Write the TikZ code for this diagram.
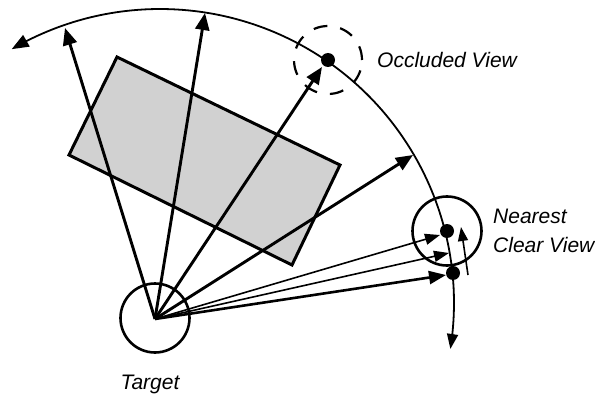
\documentclass[tikz,border=0pt]{standalone}
\usepackage{fontspec}
\setmainfont{Liberation Sans}
\usetikzlibrary{arrows.meta}
\begin{document}
\begin{tikzpicture}[x=1pt,y=-1pt,
  bigarrow/.style={line width=2.9pt,-{Triangle[length=17pt,width=14pt]}},
  thinarrow/.style={line width=1.6pt,-{Triangle[length=15pt,width=11pt]}},
  dot/.style={circle,fill=black,inner sep=0pt,minimum size=14pt},
  ring/.style={circle,draw,line width=2.6pt,inner sep=0pt,minimum size=69pt},
  lbl/.style={font=\fontsize{21}{29}\selectfont\itshape,inner sep=0pt}]
\useasboundingbox (0,0) rectangle (595,396);
\fill[white] (0,0) rectangle (595,396);
% obstacle
\draw[line width=3pt,fill=black!18,line join=miter]
  (117,57) -- (340,165) -- (292,265) -- (69,155) -- cycle;
% view sphere arc
\draw[line width=1.8pt,{Triangle[length=17pt,width=13pt]}-{Triangle[length=15pt,width=11pt]}]
  plot[domain=120.3:-9,samples=120] ({160+294*cos(\x)},{303-294*sin(\x)});
% nodes
\node[ring] (target) at (155,318) {};
\coordinate (T) at (155,319);
\node[ring,dashed,dash pattern=on 14pt off 13pt,line width=2.2pt,minimum size=68pt] (occring) at (328,60) {};
\node[ring] (nearring) at (447,231) {};
\coordinate (a1) at (65,28);
\coordinate (a2) at (205,13);
\coordinate (a3) at (322,67);
\coordinate (a4) at (413,155);
\coordinate (a5) at (440,235);
\coordinate (a6) at (449,253);
\coordinate (a7) at (446,275);
\coordinate (m1) at (468,275);
\coordinate (m2) at (461,227);
% rays
\draw[bigarrow] (T) -- (a1);
\draw[bigarrow] (T) -- (a2);
\draw[bigarrow] (T) -- (a3);
\draw[bigarrow] (T) -- (a4);
\draw[thinarrow] (T) -- (a5);
\draw[thinarrow] (T) -- (a6);
\draw[thinarrow,line width=2.6pt,-{Triangle[length=17pt,width=13pt]}] (T) -- (a7);
\draw[line width=1.6pt,-{Triangle[length=14pt,width=10pt]}] (m1) -- (m2);
% dots
\node[dot] (occ) at (328,60) {};
\node[dot] (near) at (447,231) {};
\node[dot] (low) at (453,273) {};
% labels
\node[lbl,anchor=base west] (occlbl) at (377,68) {Occluded View};
\node[lbl,anchor=base west] (nearlbl) at (493,223) {Nearest};
\node[lbl,anchor=base west] (clearlbl) at (493,252) {Clear View};
\node[lbl,anchor=base] (targetlbl) at (150,389) {Target};
\end{tikzpicture}
\end{document}
